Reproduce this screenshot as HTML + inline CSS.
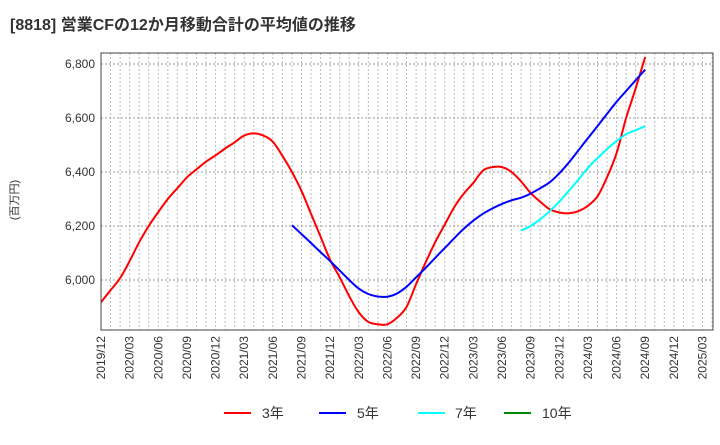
<!DOCTYPE html>
<html><head><meta charset="utf-8"><style>
body{margin:0;background:#fff;}
svg{font-family:"Liberation Sans","Noto Sans CJK JP",sans-serif;}
</style></head><body>
<svg id="chart" width="720" height="440" viewBox="0 0 720 440" xmlns="http://www.w3.org/2000/svg">
<text x="10" y="30" font-size="16" font-weight="bold" fill="#333">[8818]  営業CFの12か月移動合計の平均値の推移</text>
<text transform="translate(18,200) rotate(-90)" text-anchor="middle" font-size="11" fill="#333">(百万円)</text>
<g id="grid"></g><g id="series"></g><g id="axes"></g>
<g>
<line x1="224" y1="413" x2="251" y2="413" stroke="#f00" stroke-width="2"/><text x="262" y="418" font-size="14" fill="#333">3年</text>
<line x1="319" y1="413" x2="346" y2="413" stroke="#00f" stroke-width="2"/><text x="357" y="418" font-size="14" fill="#333">5年</text>
<line x1="418" y1="413" x2="445" y2="413" stroke="#0ff" stroke-width="2"/><text x="455" y="418" font-size="14" fill="#333">7年</text>
<line x1="504" y1="413" x2="531" y2="413" stroke="#080" stroke-width="2"/><text x="542" y="418" font-size="14" fill="#333">10年</text>
</g>
</svg>
<script>
const xLabels=["2019/12","2020/03","2020/06","2020/09","2020/12","2021/03","2021/06","2021/09","2021/12","2022/03","2022/06","2022/09","2022/12","2023/03","2023/06","2023/09","2023/12","2024/03","2024/06","2024/09","2024/12","2025/03"];
const yTicks=[6000,6200,6400,6600,6800];
const red3=[5918,5962,6007,6070,6140,6200,6252,6300,6340,6380,6410,6438,6462,6487,6510,6535,6543,6535,6512,6460,6400,6330,6245,6160,6075,6010,5940,5880,5845,5836,5836,5860,5900,5985,6065,6140,6205,6270,6320,6360,6405,6418,6418,6400,6365,6322,6290,6262,6250,6247,6255,6275,6310,6380,6470,6600,6710,6826];
const blue5Start=20;
const blue5=[6203,6170,6137,6103,6070,6035,6000,5968,5948,5939,5938,5950,5975,6010,6045,6082,6118,6155,6190,6220,6245,6265,6282,6295,6305,6320,6340,6362,6395,6435,6480,6525,6570,6615,6660,6700,6740,6779];
const cyan7Start=44;
const cyan7=[6183,6200,6225,6255,6290,6330,6372,6415,6452,6485,6515,6540,6555,6570];
const L=101,R=713,T=53,B=330,NS="http://www.w3.org/2000/svg";
const MMAX=64.1;
function xs(m){return L+(R-L)*m/MMAX;}
function ys(v){return 280-(v-6000)*54/200;}
function mk(p,tag,a){const e=document.createElementNS(NS,tag);for(const k in a)e.setAttribute(k,a[k]);p.appendChild(e);return e;}
const grid=document.getElementById('grid'),axes=document.getElementById('axes'),ser=document.getElementById('series');
for(let m=1;m<MMAX;m++){const l=mk(grid,'line',{x1:xs(m),x2:xs(m),y1:T,y2:B,stroke:'#bbb','stroke-width':1,'stroke-dasharray':'2,2'});

}
yTicks.forEach(v=>{const l=mk(grid,'line',{x1:L,x2:R,y1:ys(v),y2:ys(v),stroke:'#999','stroke-width':1,'stroke-dasharray':'2,2'});


const t=mk(axes,'text',{x:L-6,y:ys(v)+4,'text-anchor':'end','font-size':12,fill:'#333'});t.textContent=v.toLocaleString('en-US');

});
xLabels.forEach((s,i)=>{const x=xs(i*3);const t=mk(axes,'text',{transform:`translate(${x+4},336) rotate(-90)`,'text-anchor':'end','font-size':12,fill:'#333'});t.textContent=s;

});
const fr=mk(axes,'rect',{x:L,y:T,width:R-L,height:B-T,fill:'none',stroke:'#444','stroke-width':1});


function line(arr,start,color,name){
const pts=arr.map((v,i)=>[xs(start+i),ys(v)]);
let d='M'+pts[0][0].toFixed(1)+','+pts[0][1].toFixed(1);
for(let i=0;i<pts.length-1;i++){const p0=pts[Math.max(0,i-1)],p1=pts[i],p2=pts[i+1],p3=pts[Math.min(pts.length-1,i+2)];
const c1=[p1[0]+(p2[0]-p0[0])/6,p1[1]+(p2[1]-p0[1])/6],c2=[p2[0]-(p3[0]-p1[0])/6,p2[1]-(p3[1]-p1[1])/6];
d+='C'+c1[0].toFixed(1)+','+c1[1].toFixed(1)+' '+c2[0].toFixed(1)+','+c2[1].toFixed(1)+' '+p2[0].toFixed(1)+','+p2[1].toFixed(1);}
const p=mk(ser,'path',{d:d,fill:'none',stroke:color,'stroke-width':2,'stroke-linejoin':'round'});

}
line(red3,0,'#f00','line-3y');
line(blue5,blue5Start,'#00f','line-5y');
line(cyan7,cyan7Start,'#0ff','line-7y');
</script>
</body></html>
